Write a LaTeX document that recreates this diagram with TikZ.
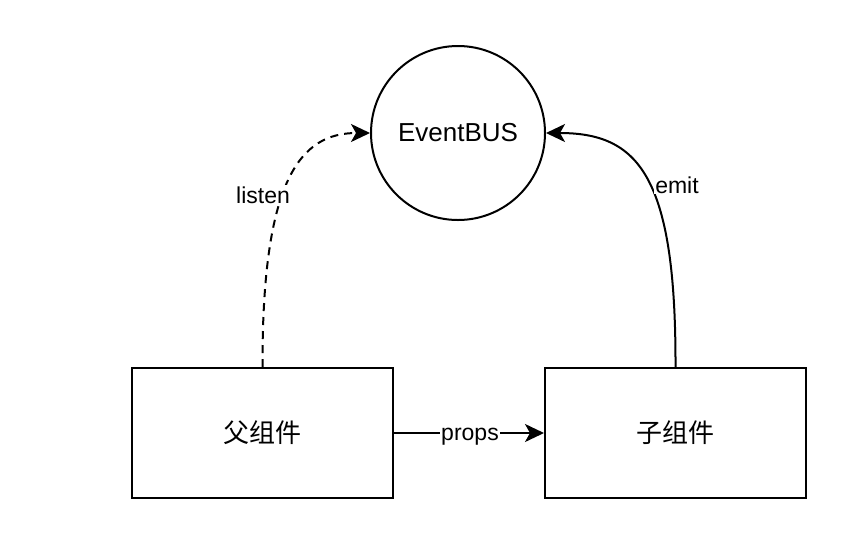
\documentclass[tikz,border=0pt]{standalone}
\usepackage{fontspec}
\setmainfont{Liberation Sans}
\newfontfamily\cjk{Noto Sans CJK SC}
\usetikzlibrary{arrows.meta}
\begin{document}
\begin{tikzpicture}[x=1pt,y=-1pt,
  every path/.style={line width=2pt},
  boxnode/.style={draw=black,line width=2pt,minimum width=261pt,minimum height=130pt,inner sep=0pt,font=\fontsize{26}{30}\selectfont\cjk},
  busnode/.style={draw=black,line width=2pt,circle,minimum size=174pt,inner sep=0pt,font=\fontsize{26}{30}\selectfont},
  lbl/.style={fill=white,inner sep=1pt,anchor=base,font=\fontsize{23}{27}\selectfont},
  arr/.style={-{Stealth[length=19pt,width=18pt,inset=5pt]}}]
\useasboundingbox (0,0) rectangle (842,539);
\node[busnode] (bus) at (458,133) {EventBUS};
\node[boxnode] (parent) at (262.5,433) {父组件};
\node[boxnode] (child) at (675.5,433) {子组件};
\draw[arr,dashed,dash pattern=on 8pt off 6pt] (parent.north) .. controls (262,180) and (300,133) .. (bus.west);
\draw[arr] (child.north) .. controls (676,175) and (638,133) .. (bus.east);
\draw[arr] (parent.east) -- (child.west);
\node[lbl] (listenlbl) at (263,203) {listen};
\node[lbl] (emitlbl) at (677,193) {emit};
\node[lbl] (propslbl) at (470,440) {props};
\end{tikzpicture}
\end{document}
